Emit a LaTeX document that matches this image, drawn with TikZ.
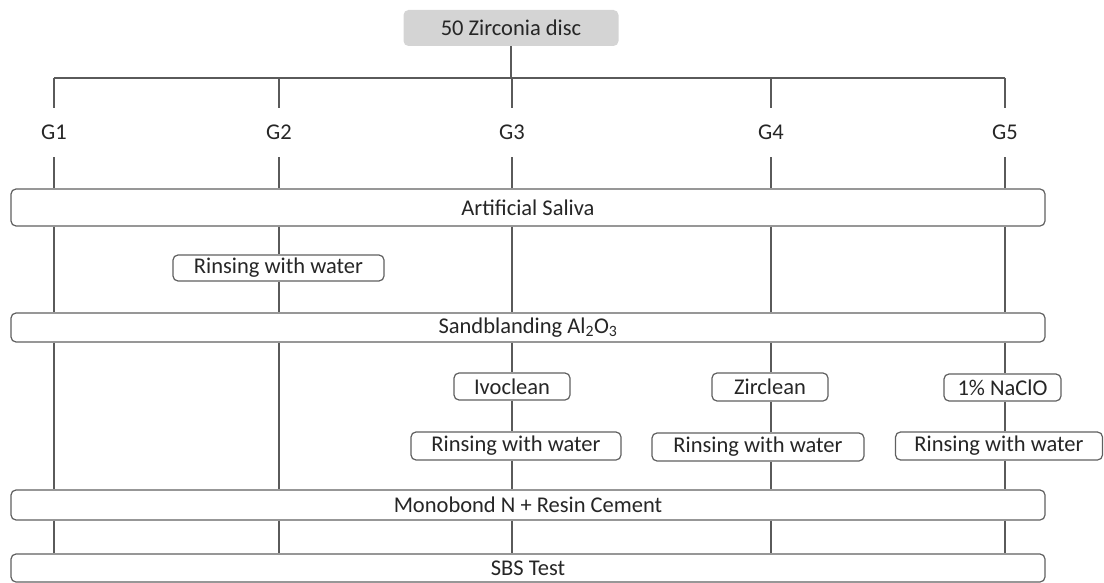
\documentclass[tikz,border=0pt]{standalone}
\usepackage{fontspec}
\setmainfont{Carlito}
\definecolor{linec}{HTML}{5A5A5A}
\definecolor{boxc}{HTML}{606060}
\definecolor{txtc}{HTML}{262626}
\definecolor{topfill}{HTML}{D4D4D4}
\tikzset{
  boxnode/.style={draw=boxc, line width=1.2pt, rounded corners=5pt, fill=white, inner sep=0pt,
    text=txtc, font=\fontsize{22.5}{26}\selectfont},
  topnode/.style={fill=topfill, rounded corners=5pt, inner sep=0pt,
    text=txtc, font=\fontsize{22.5}{26}\selectfont},
  glabel/.style={inner sep=0pt, minimum height=49pt, text=txtc, font=\fontsize{22.5}{26}\selectfont},
  conn/.style={draw=linec, line width=1.2pt}
}
\begin{document}
\begin{tikzpicture}[x=1pt,y=-1pt]
\useasboundingbox (0,0) rectangle (1104,583);
% top
\node[topnode, minimum width=215pt, minimum height=36pt] (top) at (511,28) {50 Zirconia disc};
% group labels
\node[glabel] (G1) at (54,132.5) {G1};
\node[glabel] (G2) at (279,132.5) {G2};
\node[glabel] (G3) at (512,132.5) {G3};
\node[glabel] (G4) at (771,132.5) {G4};
\node[glabel] (G5) at (1005,132.5) {G5};
\coordinate (bus) at (511,78);
% boxes
\node[boxnode, minimum width=1034pt, minimum height=37pt] (sal) at (528,207.5) {Artificial Saliva};
\node[boxnode, minimum width=211pt, minimum height=26pt] (r2) at (278.5,268) {Rinsing with water};
\node[boxnode, minimum width=1034pt, minimum height=29pt] (sand) at (528,327.5) {Sandblanding Al\textsubscript{2}O\textsubscript{3}};
\node[boxnode, minimum width=116pt, minimum height=27pt] (ivo) at (512,386.5) {Ivoclean};
\node[boxnode, minimum width=210pt, minimum height=28pt] (r3) at (516,446) {Rinsing with water};
\node[boxnode, minimum width=116pt, minimum height=28pt] (zir) at (770,387) {Zirclean};
\node[boxnode, minimum width=212pt, minimum height=28pt] (r4) at (758,447) {Rinsing with water};
\node[boxnode, minimum width=117pt, minimum height=27pt] (nac) at (1002.5,387.5) {1\% NaClO};
\node[boxnode, minimum width=207pt, minimum height=28pt] (r5) at (999,446) {Rinsing with water};
\node[boxnode, minimum width=1034pt, minimum height=30pt] (mono) at (528,505) {Monobond N + Resin Cement};
\node[boxnode, minimum width=1034pt, minimum height=28pt] (sbs) at (528,568) {SBS Test};
% connectors
\draw[conn] (top.south) -- (bus);
\draw[conn] (G1.north |- bus) -- (G5.north |- bus);
\foreach \g in {G1,G2,G3,G4,G5}{
  \draw[conn] (\g.north |- bus) -- (\g.north);
  \draw[conn] (\g.south) -- (sal.north -| \g);
  \draw[conn] (mono.south -| \g) -- (sbs.north -| \g);
}
% G1
\draw[conn] (sal.south -| G1) -- (sand.north -| G1);
\draw[conn] (sand.south -| G1) -- (mono.north -| G1);
% G2
\draw[conn] (sal.south -| G2) -- (r2.north -| G2);
\draw[conn] (r2.south -| G2) -- (sand.north -| G2);
\draw[conn] (sand.south -| G2) -- (mono.north -| G2);
% G3
\draw[conn] (sal.south -| G3) -- (sand.north -| G3);
\draw[conn] (sand.south -| G3) -- (ivo.north -| G3);
\draw[conn] (ivo.south -| G3) -- (r3.north -| G3);
\draw[conn] (r3.south -| G3) -- (mono.north -| G3);
% G4
\draw[conn] (sal.south -| G4) -- (sand.north -| G4);
\draw[conn] (sand.south -| G4) -- (zir.north -| G4);
\draw[conn] (zir.south -| G4) -- (r4.north -| G4);
\draw[conn] (r4.south -| G4) -- (mono.north -| G4);
% G5
\draw[conn] (sal.south -| G5) -- (sand.north -| G5);
\draw[conn] (sand.south -| G5) -- (nac.north -| G5);
\draw[conn] (nac.south -| G5) -- (r5.north -| G5);
\draw[conn] (r5.south -| G5) -- (mono.north -| G5);
\end{tikzpicture}
\end{document}
